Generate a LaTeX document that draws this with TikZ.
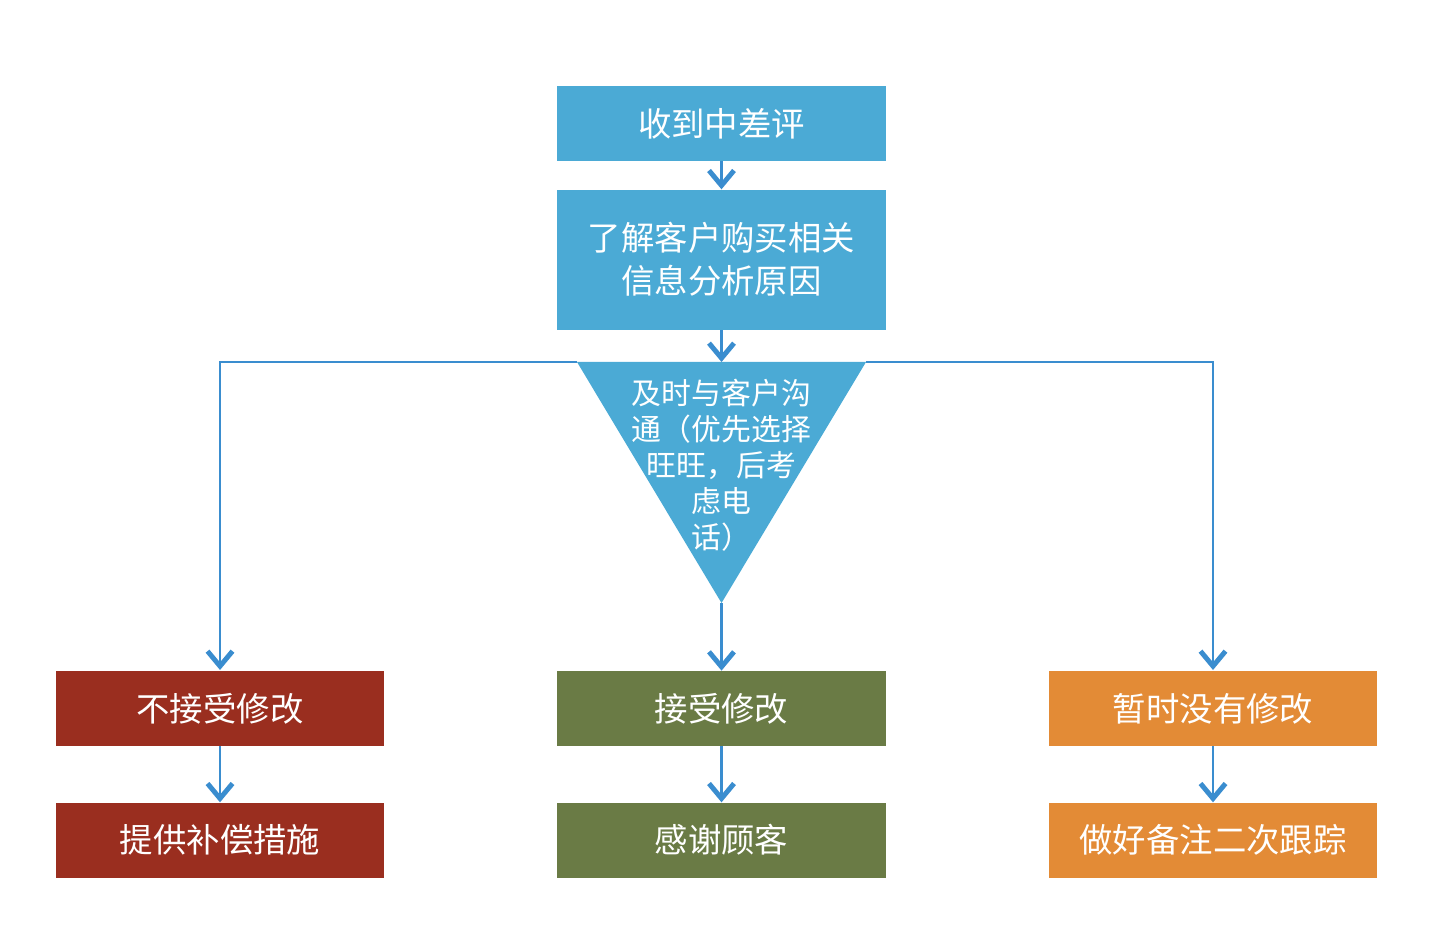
\documentclass[tikz,border=0pt]{standalone}
\usepackage{fontspec}
\newfontfamily\cjk{Noto Sans CJK SC}
\usetikzlibrary{arrows.meta, positioning, calc}

\definecolor{boxblue}{RGB}{75,170,213}
\definecolor{linkblue}{RGB}{58,141,207}
\definecolor{rejectred}{RGB}{154,46,31}
\definecolor{acceptgreen}{RGB}{106,123,69}
\definecolor{laterorange}{RGB}{227,139,54}

\begin{document}
\begin{tikzpicture}[
		x=0.02cm, y=-0.02cm,
		% estilos de las cajas
		box/.style = {rectangle, minimum width=6.58cm, minimum height=1.5cm, align=center, text=white, inner sep=0pt,
			font=\cjk\fontsize{19}{24.5}\selectfont},
		blue_box/.style = {box, fill=boxblue},
		red_box/.style = {box, fill=rejectred},
		green_box/.style = {box, fill=acceptgreen},
		orange_box/.style = {box, fill=laterorange},
		flow/.style = {draw=linkblue, line width=1.2pt},
		>={Straight Barb[length=3mm, width=5mm, line width=2.8pt]}
		]
		\useasboundingbox (0,0) rectangle (1442,928);
		
		% --- EJE CENTRAL ---
		\node [blue_box] (recv) at (721.5,123.5) {收到中差评};
		\node [blue_box, below=0.56cm of recv, minimum height=2.8cm] (analyze) {了解客户购买相关\\信息分析原因};
		
		% Triángulo de comunicación
		\coordinate (tri_l) at (577,362);
		\coordinate (tri_r) at (866,362);
		\coordinate (tri_top) at (721.5,362);
		\coordinate (tri_apex) at (721.5,603);
		
		% --- RAMAS LATERALES ---
		\draw [flow, ->] (tri_l) -| (220,670);
		\draw [flow, ->] (tri_r) -| (1213,670);
		
		\fill [boxblue] (tri_l) -- (tri_r) -- (tri_apex) -- cycle;
		\node [align=center, text=white, font=\cjk\fontsize{17}{20.5}\selectfont] (talk) at (721.5,465)
			{及时与客户沟\\通（优先选择\\旺旺，后考\\虑电\\话）};
		
		% --- FILA INFERIOR ---
		\node [red_box] (reject) at (220,708.5) {不接受修改};
		\node [green_box] (accept) at (721.5,708.5) {接受修改};
		\node [orange_box] (later) at (1213,708.5) {暂时没有修改};
		
		\node [red_box, below=1.12cm of reject] (compensate) {提供补偿措施};
		\node [green_box, below=1.12cm of accept] (thanks) {感谢顾客};
		\node [orange_box, below=1.12cm of later] (followup) {做好备注二次跟踪};
		
		% --- CONEXIONES ---
		\draw [flow, ->] (recv) -- (analyze);
		\draw [flow, ->] (analyze) -- (tri_top);
		\draw [flow, ->] (tri_apex) -- (accept);
		\draw [flow, ->] (reject) -- (compensate);
		\draw [flow, ->] (accept) -- (thanks);
		\draw [flow, ->] (later) -- (followup);
		
	\end{tikzpicture}
\end{document}
